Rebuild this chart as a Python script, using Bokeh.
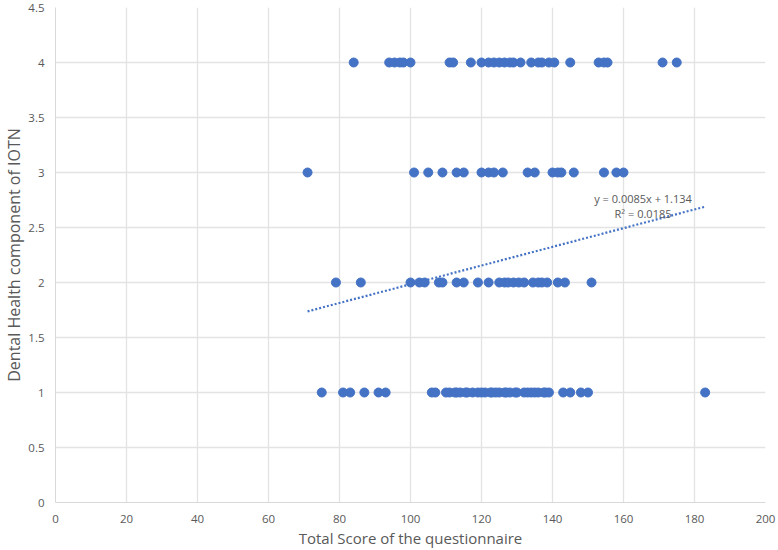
from bokeh.plotting import figure
from bokeh.models import Range1d, FixedTicker, ColumnDataSource
from bokeh.core.properties import value
from bokeh.embed import file_html
from bokeh.resources import INLINE

# ---- data ----
score_iotn4 = [84, 94, 95.5, 97, 98, 100, 111, 112, 117, 120, 122, 123.5, 125, 126.5,
               128, 129, 131, 134, 136, 137, 139, 140.5, 145, 153, 154.5, 155.5, 171, 175]
score_iotn3 = [71, 101, 105, 109, 113, 115, 120, 122, 123.5, 126, 133, 135, 140, 141.5,
               142.5, 146, 154.5, 158, 160]
score_iotn2 = [79, 86, 100, 102.5, 104, 108, 109, 113, 115, 119, 122, 125, 126.5, 127.5,
               129, 130.5, 132, 134.5, 136, 137, 138.5, 141.5, 143.5, 151]
score_iotn1 = [75, 81, 83, 87, 91, 93, 106, 107, 110, 111, 112.5, 113, 114, 115.5, 116,
               117.5, 119, 120, 121, 122.5, 123, 124, 125, 126.5, 127, 128, 129.5, 130,
               132, 133, 134, 135, 136, 137.5, 138, 139, 143, 145, 148, 150, 183]
trend_slope = 0.0085
trend_intercept = 1.134
trend_label = "y = 0.0085x + 1.134"
r2_label = "R² = 0.0185"
x_ticks = [0, 20, 40, 60, 80, 100, 120, 140, 160, 180, 200]
y_ticks = [0, 0.5, 1, 1.5, 2, 2.5, 3, 3.5, 4, 4.5]

xs = score_iotn4 + score_iotn3 + score_iotn2 + score_iotn1
ys = [4] * len(score_iotn4) + [3] * len(score_iotn3) + [2] * len(score_iotn2) + [1] * len(score_iotn1)

BLUE = "#4472C4"
GREY = "#595959"
FONT = "Open Sans"

p = figure(width=778, height=550, output_backend="svg", toolbar_location=None,
           x_range=Range1d(0, 200), y_range=Range1d(0, 4.5),
           min_border_left=0, min_border_right=13, min_border_top=7, min_border_bottom=0)
p.outline_line_color = None
p.background_fill_color = "white"
p.border_fill_color = "white"

# trend line
tx = [min(xs), max(xs)]
ty = [trend_slope * x + trend_intercept for x in tx]
p.line(tx, ty, line_color=BLUE, line_width=2.2, line_dash="2 2")

p.scatter(xs, ys, size=9, fill_color=BLUE, line_color=BLUE)

src = ColumnDataSource(dict(x=[165.5, 165.5], y=[2.76, 2.625], t=[trend_label, r2_label]))
p.text(x="x", y="y", text="t", source=src, text_align="center", text_baseline="middle",
       text_font=value(FONT), text_font_size="11px", text_color=GREY)

for ax in (p.xaxis[0], p.yaxis[0]):
    ax.major_label_text_font = FONT
    ax.major_label_text_font_size = "11.5px"
    ax.major_label_text_color = GREY
    ax.axis_label_text_font = FONT
    ax.axis_label_text_color = GREY
    ax.axis_label_text_font_style = "normal"
    ax.major_tick_line_color = None
    ax.minor_tick_line_color = None
    ax.axis_line_color = "#D9D9D9"

p.xaxis.axis_label_text_font_size = "15px"
p.yaxis.axis_label_text_font_size = "16px"
p.xaxis.ticker = FixedTicker(ticks=x_ticks)
p.yaxis.ticker = FixedTicker(ticks=y_ticks)
p.xaxis.axis_label = "Total Score of the questionnaire"
p.yaxis.axis_label = "Dental Health component of IOTN"
p.xaxis.major_label_standoff = 6
p.yaxis.major_label_standoff = 5
p.xaxis.axis_label_standoff = 2
p.yaxis.axis_label_standoff = 0

p.xgrid.ticker = FixedTicker(ticks=x_ticks)
p.ygrid.ticker = FixedTicker(ticks=y_ticks)
p.xgrid.grid_line_color = "#E3E3E3"
p.ygrid.grid_line_color = "#E3E3E3"
p.xgrid.grid_line_width = 1.3
p.ygrid.grid_line_width = 1.3

open("out.html", "w").write(file_html(p, INLINE))
